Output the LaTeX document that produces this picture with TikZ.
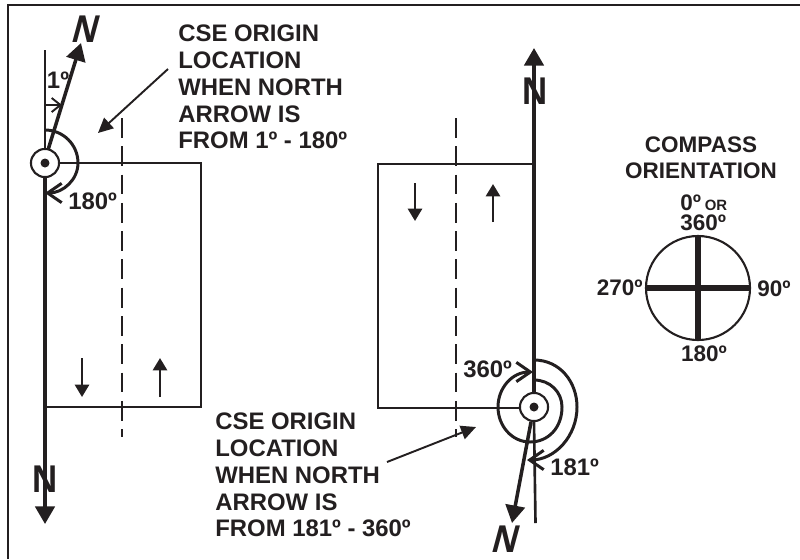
\documentclass[tikz,border=0pt]{standalone}
\usepackage{fontspec}
\setmainfont{Liberation Sans}
\usetikzlibrary{arrows.meta, positioning}
\definecolor{inkblack}{RGB}{35,31,32}
\tikzset{
    labeltext/.style={font=\fontsize{13.6}{15.3}\selectfont\bfseries, align=left, inner sep=0pt, text=inkblack},
    compasstext/.style={font=\fontsize{12.8}{14.8}\selectfont\bfseries, align=center, inner sep=0pt, text=inkblack},
    northtext/.style={font=\fontsize{22}{22}\selectfont\bfseries, inner sep=0pt, text=inkblack, xscale=0.9},
    northline/.style={line width=2pt, inkblack, -{Triangle[length=10pt,width=11pt]}},
    turnarc/.style={line width=1.7pt, inkblack, -{Straight Barb[length=8pt,width=11pt]}},
    outline/.style={line width=1.2pt, inkblack},
    centerline/.style={line width=1.1pt, inkblack, dash pattern=on 11.3pt off 4.8pt},
    origin/.style={circle, draw=inkblack, line width=1.2pt, fill=white, minimum size=16pt, inner sep=0pt},
    leader/.style={line width=1.1pt, inkblack, -{Triangle[length=8.5pt,width=8pt]}},
    flowline/.style={line width=1.4pt, inkblack, -{Triangle[length=7pt,width=8pt]}},
}
\begin{document}
\begin{tikzpicture}[x=0.02cm, y=-0.02cm]
    \useasboundingbox (0,0) rectangle (800,559);
    \draw[line width=1.2pt, inkblack] (8,559) -- (8,5) -- (800,5);
    % left side
    \draw[outline] (45,163) -| (201,407) -- (45,407);
    \draw[centerline] (122,118) -- (122,437);
    \node[origin] (originA) at (45,163) {};
    \fill[inkblack] (originA) circle[radius=4.5];
    \coordinate (topA) at (45,50);
    \coordinate (tipA) at (81,43);
    \coordinate (tipB) at (45,524);
    \draw[line width=1.5pt, inkblack] (topA) -- (originA.north);
    \draw[northline] (originA.south) -- (tipB);
    \draw[northline] (48,150) -- (tipA);
    \node[northtext, xslant=0.3] (northA) at (87,29) {N};
    \node[northtext] (northB) at (45,479) {N};
    \draw[line width=1.1pt, inkblack, -{Straight Barb[length=5pt,width=8pt]}] (45,105) -- (62,105);
    \draw[turnarc] (45,130) arc[start angle=-90, end angle=0, radius=33] arc[start angle=0, end angle=90, x radius=33, y radius=30];
    \node[labeltext] (oneA) at (58,80) {1º};
    \node[labeltext, anchor=west] (halfA) at (68,201) {180º};
    \node[labeltext, anchor=west] (textA) at (178,87) {CSE ORIGIN\\LOCATION\\WHEN NORTH\\ARROW IS\\FROM 1º - 180º};
    \coordinate (fromA) at (168,69);
    \coordinate (toA) at (98,133);
    \draw[leader] (fromA) -- (toA);
    \draw[flowline] (82,358) -- (82,397);
    \draw[flowline] (160,397) -- (160,358);
    % right side
    \draw[outline] (534,164) -| (378,408) -- (534,408);
    \draw[centerline] (456,118) -- (456,437);
    \node[origin] (originB) at (534,407) {};
    \fill[inkblack] (originB) circle[radius=4.5];
    \coordinate (tipC) at (534,48);
    \coordinate (tipD) at (512,523);
    \coordinate (endB) at (535.5,523);
    \draw[northline] (originB.north) -- (tipC);
    \draw[line width=1.5pt, inkblack] (originB.south) -- (endB);
    \draw[northline] (531,422) -- (tipD);
    \node[northtext] (northC) at (535,91) {N};
    \node[northtext, xslant=0.3] (northD) at (507,539) {N};
    \draw[turnarc] (534,360) .. controls (560,360) and (577,382) .. (577,407) .. controls (577,436) and (555,460) .. (527,460);
    \draw[turnarc] (534,380) .. controls (550,380) and (562,392) .. (562,407) .. controls (562,428) and (548,442) .. (530,442) .. controls (512,442) and (498,426) .. (498,407) .. controls (498,388) and (512,372) .. (533,372);
    \node[labeltext, anchor=west] (fullB) at (463,369) {360º};
    \node[labeltext, anchor=west] (halfB) at (550,467) {181º};
    \node[labeltext, anchor=west] (textB) at (215,475) {CSE ORIGIN\\LOCATION\\WHEN NORTH\\ARROW IS\\FROM 181º - 360º};
    \coordinate (fromB) at (387,462);
    \coordinate (toB) at (476,427);
    \draw[leader] (fromB) -- (toB);
    \draw[flowline] (415,183) -- (415,221);
    \draw[flowline] (493,222) -- (493,184);
    % compass
    \node[compasstext] (titleC) at (701,158) {COMPASS\\ORIENTATION};
    \node[circle, draw=inkblack, line width=1.2pt, minimum size=104*0.02cm, inner sep=0pt] (dial) at (698,288) {};
    \draw[line width=3pt, inkblack] (dial.north) -- (dial.south);
    \draw[line width=3pt, inkblack] (dial.west) -- (dial.east);
    \node[compasstext, anchor=west] (zero) at (680,203) {0º\,{\fontsize{8.5}{9}\selectfont OR}};
    \node[compasstext, anchor=west] (north) at (680,223) {360º};
    \node[compasstext, anchor=east] (west) at (643,288) {270º};
    \node[compasstext, anchor=west] (east) at (757,289) {90º};
    \node[compasstext] (south) at (704,354) {180º};
\end{tikzpicture}
\end{document}
